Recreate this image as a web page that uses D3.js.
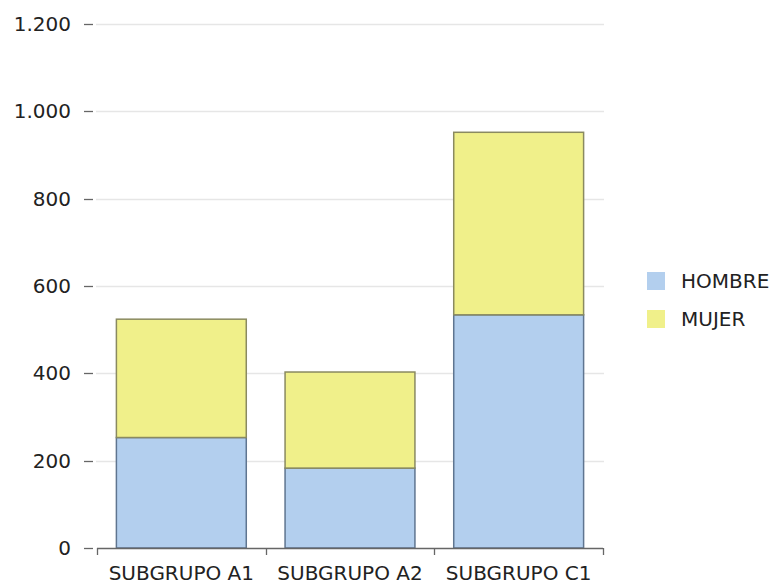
<!DOCTYPE html>
<html>
<head>
<meta charset="utf-8">
<script src="https://cdn.jsdelivr.net/npm/d3@7"></script>
<style>
  html, body { margin: 0; padding: 0; background: #fff; }
  svg { display: block; font-family: "DejaVu Sans", Verdana, sans-serif; }
</style>
</head>
<body>
<svg id="chart" width="773" height="584"></svg>
<script>
const categories = ["SUBGRUPO A1", "SUBGRUPO A2", "SUBGRUPO C1"];
const seriesNames = ["HOMBRE", "MUJER"];
const hombre = [253, 183, 534];
const mujer = [271, 220, 418];
const yTicks = [0, 200, 400, 600, 800, 1000, 1200];
const yTickLabels = ["0", "200", "400", "600", "800", "1.000", "1.200"];
const colors = ["#b3cfee", "#f0f08a"];
const strokes = ["#5f7590", "#8a8a60"];

const svg = d3.select("#chart");
const plotLeft = 97, plotRight = 603, plotTop = 24, plotBottom = 548;

const x = d3.scaleBand().domain(categories).range([plotLeft, plotRight]).padding(0);
const y = d3.scaleLinear().domain([0, 1200]).range([plotBottom, plotTop]);

const table = categories.map((c, i) => ({ cat: c, HOMBRE: hombre[i], MUJER: mujer[i] }));
const stacked = d3.stack().keys(seriesNames)(table);

// gridlines
svg.append("g").selectAll("line").data(yTicks.filter(d => d > 0)).join("line")
  .attr("x1", 96).attr("x2", 604)
  .attr("y1", d => Math.round(y(d)) + 0.5).attr("y2", d => Math.round(y(d)) + 0.5)
  .attr("stroke", "#e6e6e6").attr("stroke-width", 1.5);

// y-axis tick dashes and labels
const yg = svg.append("g");
yg.selectAll("line").data(yTicks).join("line")
  .attr("x1", 84).attr("x2", 93)
  .attr("y1", d => Math.round(y(d)) + 0.5).attr("y2", d => Math.round(y(d)) + 0.5)
  .attr("stroke", "#666").attr("stroke-width", 1.3);
yg.selectAll("text").data(yTicks).join("text")
  .attr("x", 71).attr("y", d => y(d))
  .attr("dy", "0.35em")
  .attr("text-anchor", "end")
  .attr("font-size", 20)
  .attr("fill", "#222")
  .text((d, i) => yTickLabels[i]);

// bars
const barW = x.bandwidth() * 0.77;
const layers = svg.append("g").selectAll("g").data(stacked).join("g")
  .attr("fill", (d, i) => colors[i])
  .attr("stroke", (d, i) => strokes[i]);
layers.selectAll("rect").data(d => d).join("rect")
  .attr("x", d => x(d.data.cat) + (x.bandwidth() - barW) / 2)
  .attr("width", barW)
  .attr("y", d => y(d[1]))
  .attr("height", d => y(d[0]) - y(d[1]))
  .attr("stroke-width", 1.5);

// x-axis
const xg = svg.append("g");
xg.append("line")
  .attr("x1", plotLeft).attr("x2", plotRight)
  .attr("y1", plotBottom + 0.5).attr("y2", plotBottom + 0.5)
  .attr("stroke", "#666").attr("stroke-width", 1.3);
const bounds = categories.map(c => x(c)).concat([x(categories[categories.length - 1]) + x.bandwidth()]);
xg.selectAll("line.tick").data(bounds).join("line")
  .attr("class", "tick")
  .attr("x1", d => Math.round(d) + 0.5).attr("x2", d => Math.round(d) + 0.5)
  .attr("y1", plotBottom).attr("y2", plotBottom + 7)
  .attr("stroke", "#666").attr("stroke-width", 1.3);
xg.selectAll("text").data(categories).join("text")
  .attr("x", d => x(d) + x.bandwidth() / 2)
  .attr("y", 580)
  .attr("text-anchor", "middle")
  .attr("font-size", 20)
  .attr("fill", "#222")
  .text(d => d);

// legend
const lg = svg.append("g").selectAll("g").data(seriesNames).join("g")
  .attr("transform", (d, i) => `translate(647, ${272 + i * 38})`);
lg.append("rect").attr("width", 18).attr("height", 18)
  .attr("fill", (d, i) => colors[i]);
lg.append("text").attr("x", 34).attr("y", 9).attr("dy", "0.35em")
  .attr("font-size", 20).attr("fill", "#222")
  .text(d => d);
</script>
</body>
</html>
